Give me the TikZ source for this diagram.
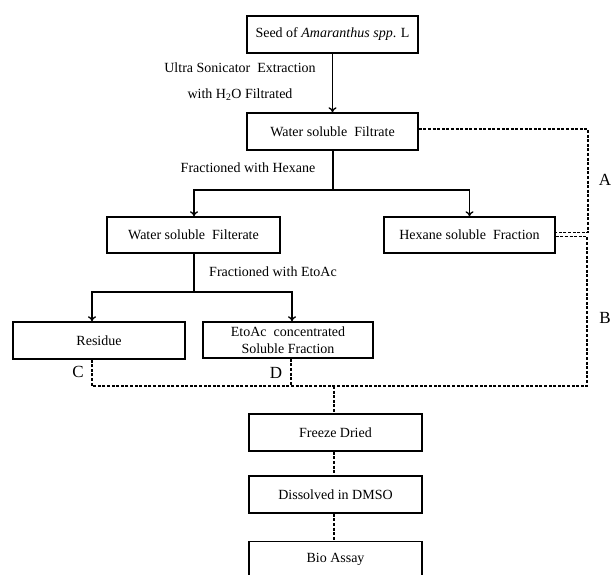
\documentclass[tikz,border=0pt]{standalone}
\usepackage{fontspec}
\setmainfont{Liberation Serif}
\usetikzlibrary{arrows.meta}
\begin{document}
\begin{tikzpicture}[x=1pt,y=-1pt,
  box/.style={draw,line width=1.5pt,minimum width=171pt,minimum height=37pt,inner sep=0pt,align=center,font=\fontsize{14}{17}\selectfont},
  lbl/.style={font=\fontsize{14}{16}\selectfont,inner sep=0pt},
  big/.style={font=\fontsize{17}{19}\selectfont,inner sep=0pt},
  arr/.style={line width=1.3pt,-{To[length=5pt,width=8pt]}},
  ln/.style={line width=1.3pt},
  dsh/.style={line width=1.3pt,dash pattern=on 3pt off 1.6pt}]
\useasboundingbox[fill=white] (0,0) rectangle (612,574);

\node[box] (seed) at (332.5,34.5) {Seed of \textit{Amaranthus spp}. L};
\node[box] (wsf) at (332.5,131.5) {Water soluble\ \ Filtrate};
\node[box,minimum width=173pt,minimum height=36pt] (wsf2) at (193.5,235) {Water soluble\ \ Filterate};
\node[box,minimum height=36pt] (hex) at (469.5,235) {Hexane soluble\ \ Fraction};
\node[box,minimum width=172pt] (res) at (99,340.5) {Residue};
\node[box,minimum width=170pt,minimum height=36pt] (eto) at (288,340) {EtoAc\ \ concentrated\\Soluble Fraction};
\node[box,minimum width=173pt] (frz) at (335.5,432.5) {Freeze Dried};
\node[box,minimum width=173pt] (dmso) at (335.5,494.5) {Dissolved in DMSO};
\node[box,minimum width=173pt,minimum height=36pt] (bio) at (335.5,559.5) {Bio Assay};

% labels
\node[lbl] (l1) at (240,68) {Ultra Sonicator\ \ Extraction};
\node[lbl] (l2) at (240,95) {with H\textsubscript{2}O Filtrated};
\node[lbl] (l3) at (248,168) {Fractioned with Hexane};
\node[lbl] (l4) at (273,272) {Fractioned with EtoAc};
\node[big] (la) at (605,180) {A};
\node[big] (lb) at (605,318) {B};
\node[big] (lc) at (78,372) {C};
\node[big] (ld) at (276,373) {D};

% solid connectors
\draw[arr] (seed.south) -- (wsf.north);
\coordinate (j1) at (333,190);
\draw[ln] (wsf.south -| j1) -- (j1);
\draw[arr] (j1) -- (194,190) -- (wsf2.north -| 194,0);
\draw[arr] (j1) -- (469.5,190) -- (hex.north);
\coordinate (j2) at (194,292);
\draw[ln] (wsf2.south -| j2) -- (j2);
\draw[arr] (j2) -- (92,292) -- (res.north -| 92,0);
\draw[arr] (j2) -- (292,292) -- (eto.north -| 292,0);

% dashed connectors
\coordinate (ra) at (588,129);
\coordinate (rb) at (587,386);
\coordinate (bm) at (334,386);
\draw[dsh] (wsf.east |- 0,129) -- (ra) -- (588,232.5) -- (hex.east |- 0,232.5);
\draw[dsh] (hex.east |- 0,236.5) -- (587,236.5) -- (rb) -- (92,386) -- (res.south -| 92,0);
\draw[dsh] (eto.south -| 291,0) -- (291,386);
\draw[dsh] (bm) -- (frz.north -| bm);
\draw[dsh] (frz.south -| bm) -- (dmso.north -| bm);
\draw[dsh] (dmso.south -| bm) -- (bio.north -| bm);
\end{tikzpicture}
\end{document}
